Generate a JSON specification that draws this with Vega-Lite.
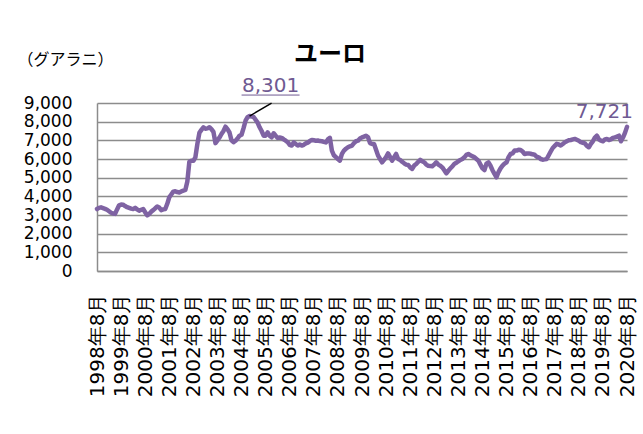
{
  "$schema": "https://vega.github.io/schema/vega-lite/v6.json",
  "width": 530,
  "height": 168,
  "autosize": "none",
  "padding": {"left": 97, "top": 103, "right": 16, "bottom": 163},
  "background": "white",
  "config": {
    "view": {"stroke": null},
    "font": "DejaVu Sans"
  },
  "title": {
    "text": "ユーロ",
    "font": "Noto Sans CJK JP",
    "fontSize": 24,
    "fontWeight": "bold",
    "color": "#000000",
    "anchor": "middle",
    "frame": "group",
    "dx": -32,
    "offset": -16
  },
  "data": {
    "values": [
      {"m":"1998年8月","v":3320},{"m":"1998年9月","v":3380},{"m":"1998年10月","v":3410},{"m":"1998年11月","v":3370},{"m":"1998年12月","v":3330},
      {"m":"1999年1月","v":3280},{"m":"1999年2月","v":3200},{"m":"1999年3月","v":3120},{"m":"1999年4月","v":3080},{"m":"1999年5月","v":3060},{"m":"1999年6月","v":3300},{"m":"1999年7月","v":3520},{"m":"1999年8月","v":3560},{"m":"1999年9月","v":3550},{"m":"1999年10月","v":3480},{"m":"1999年11月","v":3420},{"m":"1999年12月","v":3380},
      {"m":"2000年1月","v":3340},{"m":"2000年2月","v":3320},{"m":"2000年3月","v":3380},{"m":"2000年4月","v":3300},{"m":"2000年5月","v":3230},{"m":"2000年6月","v":3280},{"m":"2000年7月","v":3320},{"m":"2000年8月","v":3150},{"m":"2000年9月","v":2980},{"m":"2000年10月","v":3060},{"m":"2000年11月","v":3180},{"m":"2000年12月","v":3260},
      {"m":"2001年1月","v":3360},{"m":"2001年2月","v":3450},{"m":"2001年3月","v":3400},{"m":"2001年4月","v":3260},{"m":"2001年5月","v":3300},{"m":"2001年6月","v":3320},{"m":"2001年7月","v":3600},{"m":"2001年8月","v":3950},{"m":"2001年9月","v":4100},{"m":"2001年10月","v":4250},{"m":"2001年11月","v":4270},{"m":"2001年12月","v":4230},
      {"m":"2002年1月","v":4210},{"m":"2002年2月","v":4260},{"m":"2002年3月","v":4300},{"m":"2002年4月","v":4340},{"m":"2002年5月","v":4800},{"m":"2002年6月","v":5850},{"m":"2002年7月","v":5900},{"m":"2002年8月","v":5900},{"m":"2002年9月","v":6090},{"m":"2002年10月","v":6810},{"m":"2002年11月","v":7400},{"m":"2002年12月","v":7560},
      {"m":"2003年1月","v":7700},{"m":"2003年2月","v":7620},{"m":"2003年3月","v":7640},{"m":"2003年4月","v":7700},{"m":"2003年5月","v":7600},{"m":"2003年6月","v":7450},{"m":"2003年7月","v":6850},{"m":"2003年8月","v":7000},{"m":"2003年9月","v":7150},{"m":"2003年10月","v":7340},{"m":"2003年11月","v":7500},{"m":"2003年12月","v":7730},
      {"m":"2004年1月","v":7600},{"m":"2004年2月","v":7420},{"m":"2004年3月","v":7000},{"m":"2004年4月","v":6900},{"m":"2004年5月","v":6980},{"m":"2004年6月","v":7100},{"m":"2004年7月","v":7250},{"m":"2004年8月","v":7300},{"m":"2004年9月","v":7650},{"m":"2004年10月","v":8050},{"m":"2004年11月","v":8240},{"m":"2004年12月","v":8301},
      {"m":"2005年1月","v":8280},{"m":"2005年2月","v":8250},{"m":"2005年3月","v":8100},{"m":"2005年4月","v":7950},{"m":"2005年5月","v":7700},{"m":"2005年6月","v":7500},{"m":"2005年7月","v":7250},{"m":"2005年8月","v":7250},{"m":"2005年9月","v":7430},{"m":"2005年10月","v":7250},{"m":"2005年11月","v":7160},{"m":"2005年12月","v":7380},
      {"m":"2006年1月","v":7250},{"m":"2006年2月","v":7130},{"m":"2006年3月","v":7150},{"m":"2006年4月","v":7130},{"m":"2006年5月","v":7050},{"m":"2006年6月","v":6980},{"m":"2006年7月","v":6900},{"m":"2006年8月","v":6760},{"m":"2006年9月","v":6720},{"m":"2006年10月","v":6890},{"m":"2006年11月","v":6800},{"m":"2006年12月","v":6720},
      {"m":"2007年1月","v":6780},{"m":"2007年2月","v":6720},{"m":"2007年3月","v":6760},{"m":"2007年4月","v":6840},{"m":"2007年5月","v":6880},{"m":"2007年6月","v":6960},{"m":"2007年7月","v":7020},{"m":"2007年8月","v":7000},{"m":"2007年9月","v":6980},{"m":"2007年10月","v":6990},{"m":"2007年11月","v":6960},{"m":"2007年12月","v":6950},
      {"m":"2008年1月","v":6920},{"m":"2008年2月","v":6890},{"m":"2008年3月","v":7050},{"m":"2008年4月","v":7130},{"m":"2008年5月","v":6450},{"m":"2008年6月","v":6200},{"m":"2008年7月","v":6100},{"m":"2008年8月","v":6000},{"m":"2008年9月","v":5910},{"m":"2008年10月","v":6270},{"m":"2008年11月","v":6450},{"m":"2008年12月","v":6550},
      {"m":"2009年1月","v":6630},{"m":"2009年2月","v":6680},{"m":"2009年3月","v":6720},{"m":"2009年4月","v":6850},{"m":"2009年5月","v":6950},{"m":"2009年6月","v":6980},{"m":"2009年7月","v":7100},{"m":"2009年8月","v":7160},{"m":"2009年9月","v":7200},{"m":"2009年10月","v":7250},{"m":"2009年11月","v":7160},{"m":"2009年12月","v":6850},
      {"m":"2010年1月","v":6810},{"m":"2010年2月","v":6810},{"m":"2010年3月","v":6500},{"m":"2010年4月","v":6180},{"m":"2010年5月","v":6000},{"m":"2010年6月","v":5820},{"m":"2010年7月","v":5950},{"m":"2010年8月","v":6100},{"m":"2010年9月","v":6300},{"m":"2010年10月","v":6100},{"m":"2010年11月","v":5910},{"m":"2010年12月","v":6100},
      {"m":"2011年1月","v":6270},{"m":"2011年2月","v":6000},{"m":"2011年3月","v":5950},{"m":"2011年4月","v":5850},{"m":"2011年5月","v":5770},{"m":"2011年6月","v":5700},{"m":"2011年7月","v":5680},{"m":"2011年8月","v":5550},{"m":"2011年9月","v":5470},{"m":"2011年10月","v":5650},{"m":"2011年11月","v":5735},{"m":"2011年12月","v":5850},
      {"m":"2012年1月","v":5950},{"m":"2012年2月","v":5880},{"m":"2012年3月","v":5820},{"m":"2012年4月","v":5700},{"m":"2012年5月","v":5640},{"m":"2012年6月","v":5620},{"m":"2012年7月","v":5610},{"m":"2012年8月","v":5700},{"m":"2012年9月","v":5820},{"m":"2012年10月","v":5700},{"m":"2012年11月","v":5640},{"m":"2012年12月","v":5550},
      {"m":"2013年1月","v":5400},{"m":"2013年2月","v":5230},{"m":"2013年3月","v":5370},{"m":"2013年4月","v":5500},{"m":"2013年5月","v":5600},{"m":"2013年6月","v":5735},{"m":"2013年7月","v":5800},{"m":"2013年8月","v":5880},{"m":"2013年9月","v":5950},{"m":"2013年10月","v":6000},{"m":"2013年11月","v":6090},{"m":"2013年12月","v":6220},
      {"m":"2014年1月","v":6270},{"m":"2014年2月","v":6200},{"m":"2014年3月","v":6150},{"m":"2014年4月","v":6090},{"m":"2014年5月","v":6000},{"m":"2014年6月","v":5910},{"m":"2014年7月","v":5700},{"m":"2014年8月","v":5500},{"m":"2014年9月","v":5410},{"m":"2014年10月","v":5750},{"m":"2014年11月","v":5820},{"m":"2014年12月","v":5640},
      {"m":"2015年1月","v":5400},{"m":"2015年2月","v":5200},{"m":"2015年3月","v":5020},{"m":"2015年4月","v":5300},{"m":"2015年5月","v":5500},{"m":"2015年6月","v":5645},{"m":"2015年7月","v":5750},{"m":"2015年8月","v":5820},{"m":"2015年9月","v":6100},{"m":"2015年10月","v":6270},{"m":"2015年11月","v":6300},{"m":"2015年12月","v":6450},
      {"m":"2016年1月","v":6450},{"m":"2016年2月","v":6500},{"m":"2016年3月","v":6485},{"m":"2016年4月","v":6400},{"m":"2016年5月","v":6270},{"m":"2016年6月","v":6290},{"m":"2016年7月","v":6300},{"m":"2016年8月","v":6280},{"m":"2016年9月","v":6250},{"m":"2016年10月","v":6230},{"m":"2016年11月","v":6120},{"m":"2016年12月","v":6090},
      {"m":"2017年1月","v":6000},{"m":"2017年2月","v":5965},{"m":"2017年3月","v":5980},{"m":"2017年4月","v":6000},{"m":"2017年5月","v":6200},{"m":"2017年6月","v":6400},{"m":"2017年7月","v":6590},{"m":"2017年8月","v":6700},{"m":"2017年9月","v":6810},{"m":"2017年10月","v":6780},{"m":"2017年11月","v":6720},{"m":"2017年12月","v":6800},
      {"m":"2018年1月","v":6890},{"m":"2018年2月","v":6950},{"m":"2018年3月","v":7000},{"m":"2018年4月","v":7020},{"m":"2018年5月","v":7050},{"m":"2018年6月","v":7075},{"m":"2018年7月","v":7030},{"m":"2018年8月","v":6980},{"m":"2018年9月","v":6900},{"m":"2018年10月","v":6870},{"m":"2018年11月","v":6840},{"m":"2018年12月","v":6700},
      {"m":"2019年1月","v":6630},{"m":"2019年2月","v":6810},{"m":"2019年3月","v":6950},{"m":"2019年4月","v":7150},{"m":"2019年5月","v":7250},{"m":"2019年6月","v":7050},{"m":"2019年7月","v":6980},{"m":"2019年8月","v":6950},{"m":"2019年9月","v":7050},{"m":"2019年10月","v":7075},{"m":"2019年11月","v":7020},{"m":"2019年12月","v":7050},
      {"m":"2020年1月","v":7130},{"m":"2020年2月","v":7160},{"m":"2020年3月","v":7200},{"m":"2020年4月","v":7250},{"m":"2020年5月","v":6950},{"m":"2020年6月","v":7150},{"m":"2020年7月","v":7400},{"m":"2020年8月","v":7721}
    ]
  },
  "encoding": {
    "x": {
      "field": "m",
      "type": "ordinal",
      "sort": null,
      "scale": {"type": "point", "padding": 0},
      "axis": {
        "title": null,
        "values": ["1998年8月","1999年8月","2000年8月","2001年8月","2002年8月","2003年8月","2004年8月","2005年8月","2006年8月","2007年8月","2008年8月","2009年8月","2010年8月","2011年8月","2012年8月","2013年8月","2014年8月","2015年8月","2016年8月","2017年8月","2018年8月","2019年8月","2020年8月"],
        "labelAngle": -90,
        "labelAlign": "right",
        "labelBaseline": "middle",
        "labelPadding": 22,
        "labelFont": "DejaVu Sans",
        "labelFontSize": 20,
        "labelColor": "#000000",
        "labelOverlap": false,
        "labelBound": false,
        "labelFlush": false,
        "ticks": false,
        "grid": false,
        "domain": true,
        "domainColor": "#8c8c8c",
        "domainWidth": 1.5
      }
    },
    "y": {
      "field": "v",
      "type": "quantitative",
      "scale": {"domain": [0, 9000], "nice": false, "zero": true},
      "axis": {
        "title": "（グアラニ）",
        "titleAngle": 0,
        "titleX": -80,
        "titleY": -44,
        "titleAlign": "left",
        "titleBaseline": "middle",
        "titleFont": "Noto Sans CJK JP",
        "titleFontSize": 16,
        "titleFontWeight": "normal",
        "titleColor": "#000000",
        "values": [0,1000,2000,3000,4000,5000,6000,7000,8000,9000],
        "format": ",.0f",
        "labelFont": "DejaVu Sans",
        "labelFontSize": 17,
        "labelColor": "#000000",
        "labelPadding": 25,
        "labelOverlap": false,
        "labelBound": false,
        "labelFlush": false,
        "ticks": false,
        "grid": true,
        "gridColor": "#8c8c8c",
        "gridWidth": 1.5,
        "domain": true,
        "domainColor": "#8c8c8c",
        "domainWidth": 1.5
      }
    }
  },
  "layer": [
    {
      "mark": {"type": "line", "color": "#7F63A3", "strokeWidth": 4.5, "strokeJoin": "round", "strokeCap": "round"}
    },
    {
      "transform": [{"filter": "datum.m == '2004年12月'"}],
      "mark": {"type": "rule", "color": "#000000", "strokeWidth": 1.5, "x2Offset": 22, "y2Offset": -13},
      "encoding": {"x2": {"field": "m"}, "y2": {"field": "v"}}
    },
    {
      "transform": [{"filter": "datum.m == '2004年12月'"}],
      "mark": {"type": "text", "color": "#6F5A92", "font": "DejaVu Sans", "fontSize": 20, "align": "center", "baseline": "middle", "dx": 21, "dy": -30},
      "encoding": {"text": {"field": "v", "type": "quantitative", "format": ","}}
    },
    {
      "transform": [{"filter": "datum.m == '2004年12月'"}],
      "mark": {"type": "rule", "color": "#6F5A92", "strokeWidth": 1, "xOffset": -8, "x2Offset": 50, "yOffset": -21, "y2Offset": -21},
      "encoding": {"x2": {"field": "m"}, "y2": {"field": "v"}}
    },
    {
      "transform": [{"filter": "datum.m == '2020年8月'"}],
      "mark": {"type": "text", "color": "#6F5A92", "font": "DejaVu Sans", "fontSize": 20, "align": "right", "baseline": "middle", "dx": 6, "dy": -15},
      "encoding": {"text": {"field": "v", "type": "quantitative", "format": ","}}
    }
  ]
}
